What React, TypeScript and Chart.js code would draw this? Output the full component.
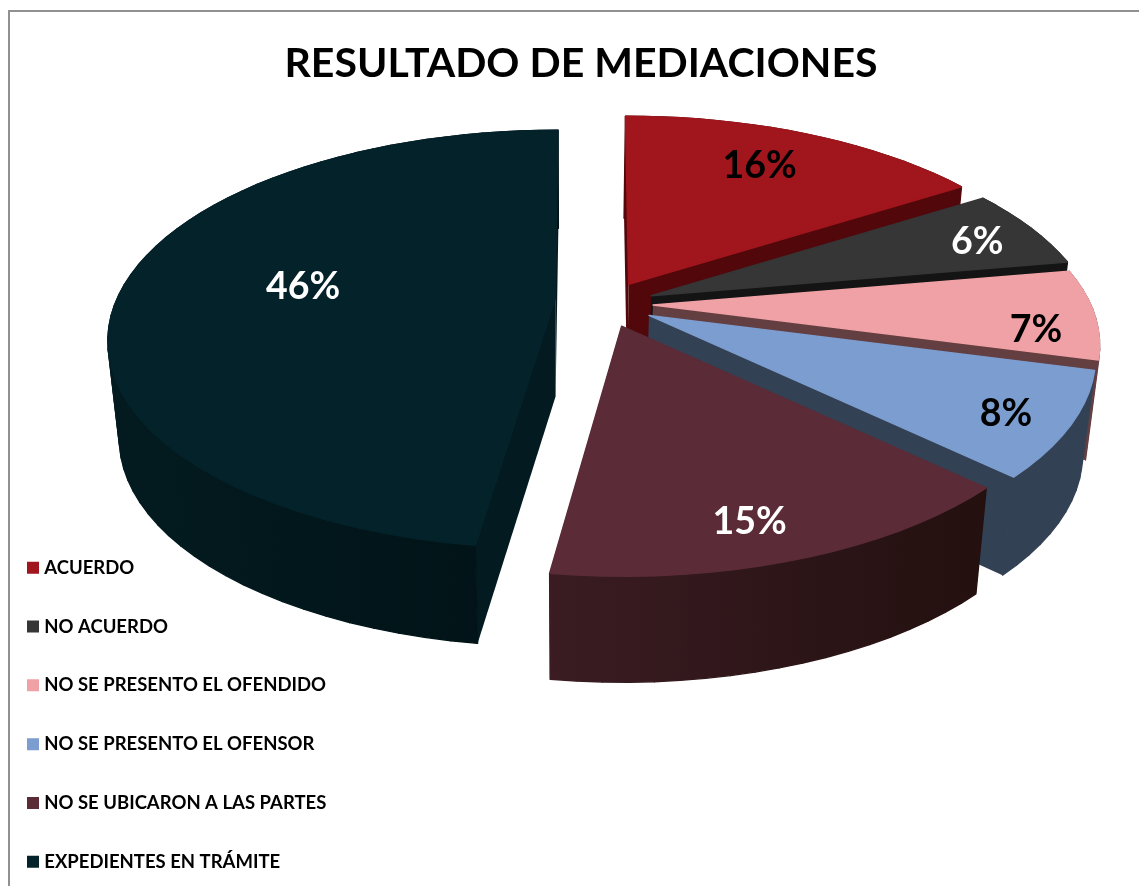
import React, { useEffect, useRef } from "react";
import { Chart, registerables } from "chart.js";

Chart.register(...registerables);

const categories = [
  "ACUERDO",
  "NO ACUERDO",
  "NO SE PRESENTO EL OFENDIDO",
  "NO SE PRESENTO EL OFENSOR",
  "NO SE UBICARON A LAS PARTES",
  "EXPEDIENTES EN TRÁMITE",
];
const shares = [15.52, 6.04, 6.74, 7.81, 14.55, 46.34];
const topColors = ["#a0161c", "#363636", "#f0a1a5", "#7c9dcf", "#5b2c37", "#04222a"];
const wallColors = ["#52070b", "#141414", "#633f42", "#334154", "#361a20", "#031a20"];
const rimLeftColors = ["#52070b", "#141414", "#633f42", "#334154", "#3a1c22", "#031b20"];
const rimRightColors = ["#52070b", "#141414", "#633f42", "#334154", "#23100f", "#011216"];
const labelColors = ["#000000", "#ffffff", "#000000", "#000000", "#ffffff", "#ffffff"];

const FONT = "Lato, Carlito, 'Open Sans', sans-serif";

// 3D view of the pie plane
const VIEW = { cx: 605, cy: 304, r: 438, q: 0.459, k: 0.196, vanishX: 570, shrink: 0.975, convergeX: 590 };
const WALL_DEPTHS = [102, 102, 100, 98, 106, 98];
const APEX_NUDGES = [
  [0, 0],
  [0, 0],
  [-2, 0],
  [0, 0],
  [0, 0],
  [0, -4],
];
const LABEL_OFFSETS = [
  [131, -118],
  [326, -54],
  [381, 25],
  [357, 98],
  [128, 196],
  [-252, -15],
];
const DRAW_ORDER = [5, 0, 1, 2, 3, 4];

type P = [number, number];

function project(u: number, v: number): P {
  const s = 1 / (1 - VIEW.k * v);
  return [VIEW.r * u * s, VIEW.r * VIEW.q * v * s];
}
function trace(ctx: CanvasRenderingContext2D, pts: P[]) {
  ctx.beginPath();
  pts.forEach((p, i) => (i ? ctx.lineTo(p[0], p[1]) : ctx.moveTo(p[0], p[1])));
  ctx.closePath();
}
function fillPoly(ctx: CanvasRenderingContext2D, pts: P[], color: any, seal = 0) {
  trace(ctx, pts);
  ctx.fillStyle = color;
  ctx.fill();
  if (seal) {
    ctx.strokeStyle = color;
    ctx.lineWidth = seal;
    ctx.lineJoin = "round";
    ctx.stroke();
  }
}

const pie3d = {
  id: "pie3d",
  beforeDraw(chart: any) {
    const ctx = chart.ctx;
    ctx.save();
    ctx.strokeStyle = "#909090";
    ctx.lineWidth = 2;
    ctx.beginPath();
    ctx.moveTo(9, chart.height);
    ctx.lineTo(9, 11);
    ctx.lineTo(chart.width, 11);
    ctx.stroke();
    ctx.restore();
  },
  afterLayout(chart: any) {
    const lg = chart.legend;
    const pad = lg.options.labels.padding;
    lg.left = 31 - pad;
    lg.top = 558.5 - pad;
    lg.bottom = lg.top + 500;
  },
  beforeDatasetsDraw(chart: any) {
    const ctx = chart.ctx;
    const arcs = chart.getDatasetMeta(0).data;
    ctx.save();
    const lowerOf = (i: number) => (p: P): P => [
      VIEW.vanishX + (p[0] - VIEW.vanishX) * VIEW.shrink,
      p[1] + WALL_DEPTHS[i],
    ];
    DRAW_ORDER.forEach((i) => {
      const arc = arcs[i];
      const lower = lowerOf(i);
      const a0 = arc.startAngle;
      const a1 = arc.endAngle;
      const mid = (a0 + a1) / 2;
      const off = arc.options.offset / VIEW.r;
      const e = project(off * Math.cos(mid), off * Math.sin(mid));
      const apex: P = [VIEW.cx + e[0] + APEX_NUDGES[i][0], VIEW.cy + e[1] + APEX_NUDGES[i][1]];
      const steps = Math.max(6, Math.ceil(((a1 - a0) * 180) / Math.PI / 3));
      const rim: P[] = [];
      for (let s = 0; s <= steps; s++) {
        const a = a0 + ((a1 - a0) * s) / steps;
        const u = Math.cos(a);
        const v = Math.sin(a);
        const p = project(u, v);
        const persp = 1 / (1 - VIEW.k * v) - 1;
        const lean = v > 0 ? Math.max(0, Math.min(1, 1 - u * 3)) * 0.5 : 0.5;
        rim.push([apex[0] + p[0] + (apex[0] - VIEW.convergeX) * persp * lean, apex[1] + p[1]]);
      }
      const first = rim[0];
      const last = rim[rim.length - 1];
      fillPoly(ctx, [apex, first, lower(first), lower(apex)], wallColors[i]);
      fillPoly(ctx, [apex, last, lower(last), lower(apex)], wallColors[i]);
      const xs = rim.map((p) => p[0]);
      const grad = ctx.createLinearGradient(Math.min(...xs), 0, Math.max(...xs), 0);
      grad.addColorStop(0, rimLeftColors[i]);
      grad.addColorStop(1, rimRightColors[i]);
      const quads = rim.slice(0, -1).map((p, s) => ({ p, q: rim[s + 1] }));
      quads.sort((m, n) => m.p[1] + m.q[1] - n.p[1] - n.q[1]);
      quads.forEach(({ p, q }) => fillPoly(ctx, [p, q, lower(q), lower(p)], grad, 1.4));
      fillPoly(ctx, [apex, ...rim], arc.options.backgroundColor, 1.4);
    });
    arcs.forEach((arc: any, i: number) => {
      const mid = (arc.startAngle + arc.endAngle) / 2;
      const off = arc.options.offset / VIEW.r;
      const e = project(off * Math.cos(mid), off * Math.sin(mid));
      ctx.font = `bold 37.5px ${FONT}`;
      ctx.textAlign = "center";
      ctx.textBaseline = "middle";
      ctx.fillStyle = labelColors[i];
      ctx.fillText(
        `${Math.round(shares[i])}%`,
        VIEW.cx + e[0] + LABEL_OFFSETS[i][0],
        VIEW.cy + e[1] + LABEL_OFFSETS[i][1]
      );
    });
    ctx.restore();
    return false;
  },
};

export default function App() {
  const ref = useRef<HTMLCanvasElement>(null);
  useEffect(() => {
    const chart = new Chart(ref.current as HTMLCanvasElement, {
      type: "pie",
      data: {
        labels: categories,
        datasets: [{ data: shares, backgroundColor: topColors, borderColor: topColors, borderWidth: 8, offset: 50 }],
      },
      options: {
        animation: false,
        responsive: false,
        layout: { padding: { left: 23 } },
        plugins: {
          tooltip: { enabled: false },
          title: {
            display: true,
            text: "RESULTADO DE MEDIACIONES",
            color: "#000000",
            font: { family: FONT, size: 41, weight: "bold" },
            padding: { top: 39, bottom: 10 },
          },
          legend: {
            display: true,
            position: "left",
            align: "start",
            labels: {
              color: "#000000",
              boxWidth: 4,
              boxHeight: 4,
              padding: 40.3,
              font: { family: FONT, size: 18.5, weight: "bold" },
            },
          },
        },
      },
      plugins: [pie3d],
    } as any);
    return () => chart.destroy();
  }, []);
  return (
    <canvas
      ref={ref}
      width={1139}
      height={886}
      style={{ position: "absolute", left: 0, top: 0, display: "block" }}
    />
  );
}
